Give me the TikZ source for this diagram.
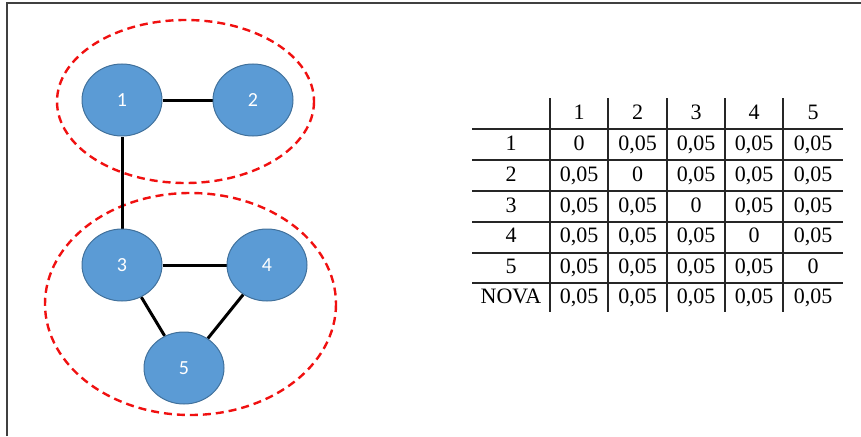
\documentclass[tikz,border=0pt]{standalone}
\usepackage{fontspec}
\setmainfont{Liberation Serif}
\newfontfamily\nodefont{Carlito}
\usetikzlibrary{shapes.geometric,backgrounds}
\definecolor{nodeblue}{HTML}{5B9BD5}
\definecolor{nodeedge}{HTML}{41719C}
\definecolor{grpred}{HTML}{F01010}
\tikzset{
  vtx/.style={ellipse, fill=nodeblue, draw=nodeedge, line width=1pt, minimum width=80pt, minimum height=72pt, inner sep=0pt, text=white, font=\nodefont\fontsize{20}{20}\selectfont},
  edge/.style={line width=3pt, black},
  grp/.style={draw=grpred, line width=2.4pt, dash pattern=on 8pt off 5pt},
  cell/.style={inner sep=0pt, text height=15pt, text depth=4pt, font=\fontsize{22}{22}\selectfont},
  tline/.style={line width=1.1pt, black!85},
  frame/.style={line width=1.5pt, black!75}
}
\begin{document}
\begin{tikzpicture}[x=1pt,y=-1pt]
\useasboundingbox (0,0) rectangle (861,436);
% frame
\coordinate (fa) at (7,436);
\coordinate (fb) at (7,3);
\coordinate (fc) at (861,3);
\draw[frame] (fa) -- (fb) -- (fc);
% nodes
\node[vtx] (n1) at (122,100) {1};
\node[vtx] (n2) at (253,100) {2};
\node[vtx] (n3) at (122,265) {3};
\node[vtx] (n4) at (267,265) {4};
\node[vtx] (n5) at (184,368) {5};
\begin{scope}[on background layer]
  \draw[grp] (185.5,101.5) ellipse [x radius=128.5, y radius=81.5];
  \draw[grp] (190.5,304) ellipse [x radius=145.5, y radius=111];
  \draw[edge] (n1) -- (n2);
  \draw[edge] (n1) -- (n3);
  \draw[edge] (n3) -- (n4);
  \draw[edge] (n3) -- (n5);
  \draw[edge] (n4) -- (n5);
\end{scope}
% table lines
\foreach \y [count=\i] in {129,160,191,222,253,283} {
  \coordinate (hl\i) at (472,\y);
  \coordinate (hr\i) at (843,\y);
  \draw[tline] (hl\i) -- (hr\i);
}
\foreach \x [count=\i] in {550,608,667,725,783} {
  \coordinate (vt\i) at (\x,98);
  \coordinate (vb\i) at (\x,312);
  \draw[tline] (vt\i) -- (vb\i);
}
% header
\foreach \t [count=\c] in {1,2,3,4,5} {
  \pgfmathsetmacro{\cx}{{579,637.5,696,754,813}[\c-1]}
  \node[cell] (h\c) at (\cx,114) {\t};
}
% rows
\foreach \lab/\ry/\r in {1/145/1,2/176/2,3/207/3,4/237/4,5/268/5,NOVA/298/6} {
  \node[cell] (r\r) at (511,\ry) {\lab};
  \foreach \c in {1,...,5} {
    \pgfmathsetmacro{\cx}{{579,637.5,696,754,813}[\c-1]}
    \pgfmathtruncatemacro{\isdiag}{\r==\c ? 1 : 0}
    \ifnum\isdiag=1
      \node[cell] (m\r-\c) at (\cx,\ry) {0};
    \else
      \node[cell] (m\r-\c) at (\cx,\ry) {0,05};
    \fi
  }
}
\end{tikzpicture}
\end{document}
